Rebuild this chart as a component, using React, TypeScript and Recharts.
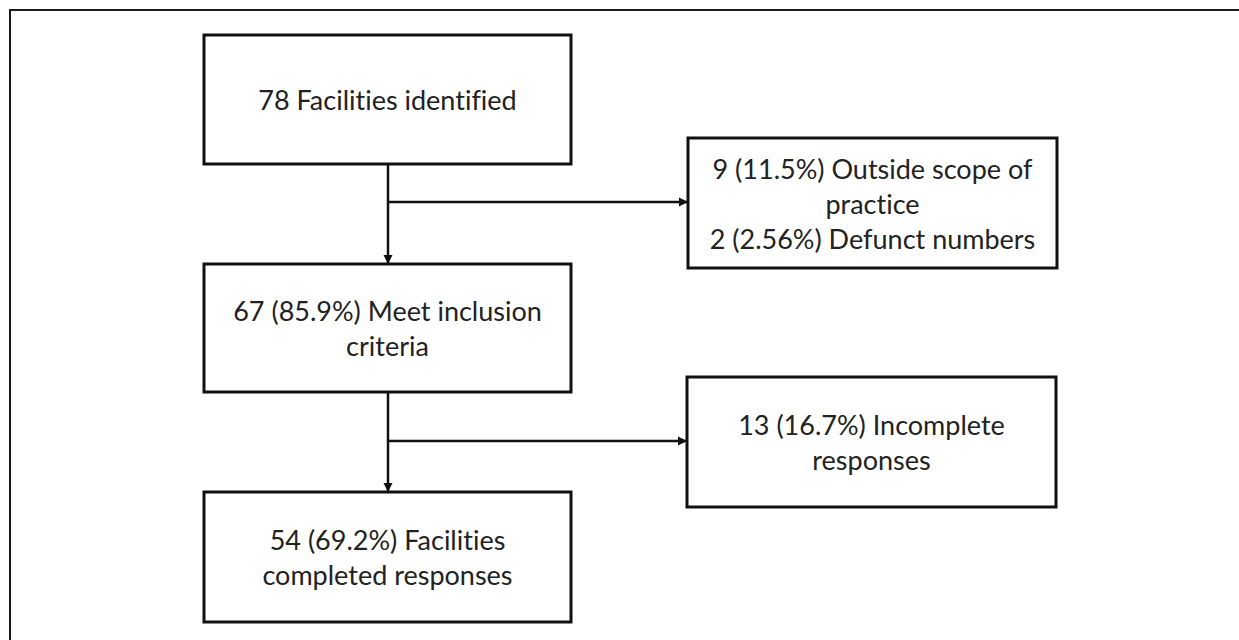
import { ComposedChart, ReferenceArea, ReferenceLine, Scatter, XAxis, YAxis } from "recharts";

// flow diagram nodes, in the diagram's own coordinate space (x: 0..1239, y: 0..640 downwards)
const nodeLines = [
  ["78 Facilities identified"],
  ["67 (85.9%) Meet inclusion", "criteria"],
  ["54 (69.2%) Facilities", "completed responses"],
  ["9 (11.5%) Outside scope of", "practice", "2 (2.56%) Defunct numbers"],
  ["13 (16.7%) Incomplete", "responses"],
];
const nodeLeft = [204, 204, 204, 688, 687];
const nodeRight = [571, 571, 571, 1057, 1056];
const nodeTop = [35, 264, 492, 138, 377];
const nodeBottom = [164, 392, 622, 268, 507];

// connectors: [from, to] points, arrow at the end
const connectors = [
  [{ x: 388, y: 164 }, { x: 388, y: 264 }],
  [{ x: 388, y: 202 }, { x: 688, y: 202 }],
  [{ x: 388, y: 392 }, { x: 388, y: 492 }],
  [{ x: 388, y: 441 }, { x: 687, y: 441 }],
];

const INK = "#111111";
const TEXT = "#222222";
const LINE_GAP = 35;

const nodeCenters = nodeLines.map((lines, i) => ({
  x: (nodeLeft[i] + nodeRight[i]) / 2,
  y: (nodeTop[i] + nodeBottom[i]) / 2,
  lines,
}));

const arrowTips = connectors.map(([from, to]) => ({
  x: to.x,
  y: to.y,
  dir: from.x === to.x ? "down" : "right",
}));

function NodeText(props: any) {
  const { cx, cy, payload } = props;
  const lines: string[] = payload.lines;
  return (
    <text
      x={cx}
      y={cy}
      textAnchor="middle"
      fontFamily="Lato, 'Open Sans', sans-serif"
      fontSize={27}
      fill={TEXT}
      style={{ fontVariantLigatures: "none" }}
    >
      {lines.map((line, i) => (
        <tspan
          key={i}
          x={cx}
          y={cy + (i - (lines.length - 1) / 2) * LINE_GAP}
          dominantBaseline="central"
        >
          {line}
        </tspan>
      ))}
    </text>
  );
}

function ArrowHead(props: any) {
  const { cx, cy, payload } = props;
  const pts =
    payload.dir === "down"
      ? `${cx - 4.5},${cy - 9} ${cx + 4.5},${cy - 9} ${cx},${cy}`
      : `${cx - 9},${cy - 4.5} ${cx - 9},${cy + 4.5} ${cx},${cy}`;
  return <polygon points={pts} fill={INK} />;
}

export default function App() {
  return (
    <div style={{ position: "absolute", left: 0, top: 0, background: "#fff" }}>
      <ComposedChart width={1239} height={640} margin={{ top: 0, right: 0, bottom: 0, left: 0 }}>
        <XAxis type="number" dataKey="x" domain={[0, 1239]} hide allowDataOverflow />
        <YAxis type="number" dataKey="y" domain={[0, 640]} reversed hide allowDataOverflow />

        {/* outer frame, cropped on the right and bottom */}
        <ReferenceLine
          segment={[{ x: 9, y: 10 }, { x: 1239, y: 10 }]}
          stroke="#1a1a1a"
          strokeWidth={2}
          ifOverflow="visible"
        />
        <ReferenceLine
          segment={[{ x: 10, y: 10 }, { x: 10, y: 640 }]}
          stroke="#1a1a1a"
          strokeWidth={2}
          ifOverflow="visible"
        />

        {connectors.map((seg, i) => (
          <ReferenceLine
            key={`c${i}`}
            segment={seg}
            stroke={INK}
            strokeWidth={2.5}
            ifOverflow="visible"
          />
        ))}

        {nodeLines.map((_, i) => (
          <ReferenceArea
            key={`n${i}`}
            x1={nodeLeft[i]}
            x2={nodeRight[i]}
            y1={nodeTop[i]}
            y2={nodeBottom[i]}
            fill="#ffffff"
            fillOpacity={1}
            stroke={INK}
            strokeWidth={3}
            ifOverflow="visible"
          />
        ))}

        <Scatter data={arrowTips} dataKey="y" shape={ArrowHead} isAnimationActive={false} />
        <Scatter data={nodeCenters} dataKey="y" shape={NodeText} isAnimationActive={false} />
      </ComposedChart>
    </div>
  );
}
